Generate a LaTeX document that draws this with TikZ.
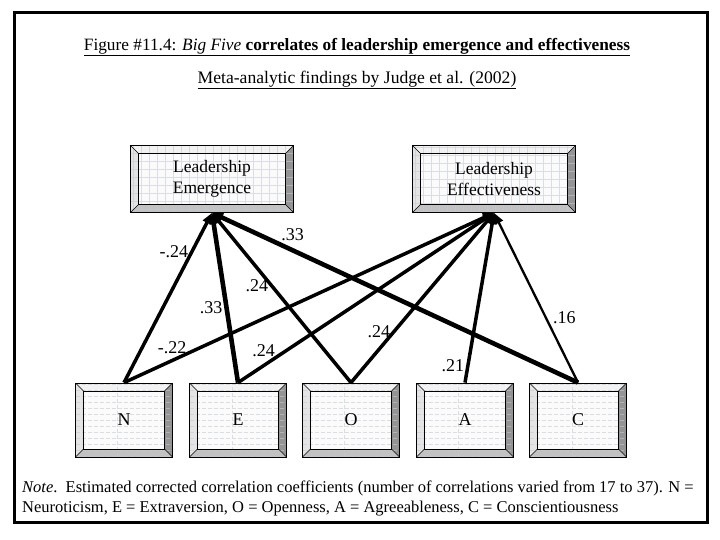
\documentclass[tikz,border=0pt]{standalone}
\usepackage{fontspec}
\setmainfont{Liberation Serif}
\usetikzlibrary{arrows.meta}

\definecolor{bevtop}{HTML}{F2F2F2}
\definecolor{bevleft}{HTML}{E4E4E4}
\definecolor{bevright}{HTML}{949494}
\definecolor{bevbot}{HTML}{C2C2C2}
\definecolor{facecol}{HTML}{FBFBFB}
\definecolor{patline}{HTML}{C4CAD2}

% bevelled button face, #1 = pattern drawn over it
\newcommand{\bevelface}[1]{%
  \coordinate (osw) at (path picture bounding box.south west);
  \coordinate (one) at (path picture bounding box.north east);
  \coordinate (onw) at (osw |- one);
  \coordinate (ose) at (one |- osw);
  \coordinate (isw) at ([xshift=8pt,yshift=8pt]osw);
  \coordinate (ine) at ([xshift=-8pt,yshift=-8pt]one);
  \coordinate (inw) at (isw |- ine);
  \coordinate (ise) at (ine |- isw);
  \fill[facecol] (isw) rectangle (ine);
  \fill[bevtop] (onw) -- (one) -- (ine) -- (inw) -- cycle;
  \fill[bevleft] (osw) -- (onw) -- (inw) -- (isw) -- cycle;
  \fill[bevright] (one) -- (ose) -- (ise) -- (ine) -- cycle;
  \fill[bevbot] (osw) -- (ose) -- (ise) -- (isw) -- cycle;
  #1
  \draw[line width=0.6pt] (isw) rectangle (ine);
  \draw[line width=0.4pt] (osw) -- (isw) (onw) -- (inw) (one) -- (ine) (ose) -- (ise);
}

\tikzset{
  gridface/.style={path picture={\bevelface{\draw[patline, line width=0.5pt, opacity=0.6] (osw) grid[step=8pt] (one);}}},
  ruleface/.style={path picture={\bevelface{\draw[patline, line width=0.5pt, opacity=0.6, dash pattern=on 4pt off 2pt] (osw) grid[xstep=1000pt, ystep=6pt] (one);}}}
}

\begin{document}
\begin{tikzpicture}[x=1pt, y=-1pt, >={Triangle[length=11pt,width=9pt]},
  upper/.style={draw, line width=0.8pt, minimum width=163pt, minimum height=67pt, align=center, font=\fontsize{17.5}{21}\selectfont, gridface},
  lower/.style={draw, line width=0.8pt, minimum width=97pt, minimum height=74pt, font=\fontsize{18}{20}\selectfont, ruleface},
  link/.style={->, line width=3.5pt},
  heavy/.style={->, line width=4.6pt},
  light/.style={->, line width=2.3pt},
  val/.style={font=\fontsize{18}{20}\selectfont, inner sep=2pt}]
\useasboundingbox (0,0) rectangle (720,540);
\fill[white] (0,0) rectangle (720,540);
\draw[line width=3pt] (14,13) rectangle (707,522);

\node[font=\fontsize{17.3}{20}\selectfont] (title) at (357,47) {\underline{Figure \#11.4: \textit{Big Five} \textbf{correlates of leadership emergence and effectiveness}}};
\node[font=\fontsize{17.6}{20}\selectfont] (sub) at (357,80) {\underline{Meta-analytic findings by Judge et al. (2002)}};

\node[upper] (le) at (212,179) {Leadership\\Emergence};
\node[upper] (lf) at (494,179) {Leadership\\Effectiveness};

\node[lower] (n) at (124,420) {N};
\node[lower] (e) at (238,420) {E};
\node[lower] (o) at (351,420) {O};
\node[lower] (a) at (465,420) {A};
\node[lower] (c) at (578,420) {C};

% emergence
\draw[link] (n.north) -- node[val, pos=0.77, left] {-.24} (le.south);
\draw[heavy] (e.north) -- node[val, pos=0.44, left] {.33} (le.south);
\draw[link] (o.north) -- node[val, pos=0.57, left] {.24} (le.south);
\draw[heavy] (c.north) -- node[val, pos=0.78, above=5pt] {.33} (le.south);
% effectiveness
\draw[link] (n.north) -- node[val, pos=0.13, above=3pt] {-.22} (lf.south);
\draw[link] (e.north) -- node[val, pos=0.1, above=5pt] {.24} (lf.south);
\draw[link] (o.north) -- node[val, pos=0.3, left] {.24} (lf.south);
\draw[link] (a.north) -- node[val, pos=0.1, left] {.21} (lf.south);
\draw[light] (c.north) -- node[val, pos=0.38, right=4pt] {.16} (lf.south);

\node[anchor=north west, align=left, inner sep=0pt, font=\fontsize{16.5}{19.5}\selectfont] (note) at (22,481)
  {\textit{Note}.\ \ Estimated corrected correlation coefficients (number of correlations varied from 17 to 37). N =\\
   Neuroticism, E = Extraversion, O = Openness, A = Agreeableness, C = Conscientiousness};
\end{tikzpicture}
\end{document}
